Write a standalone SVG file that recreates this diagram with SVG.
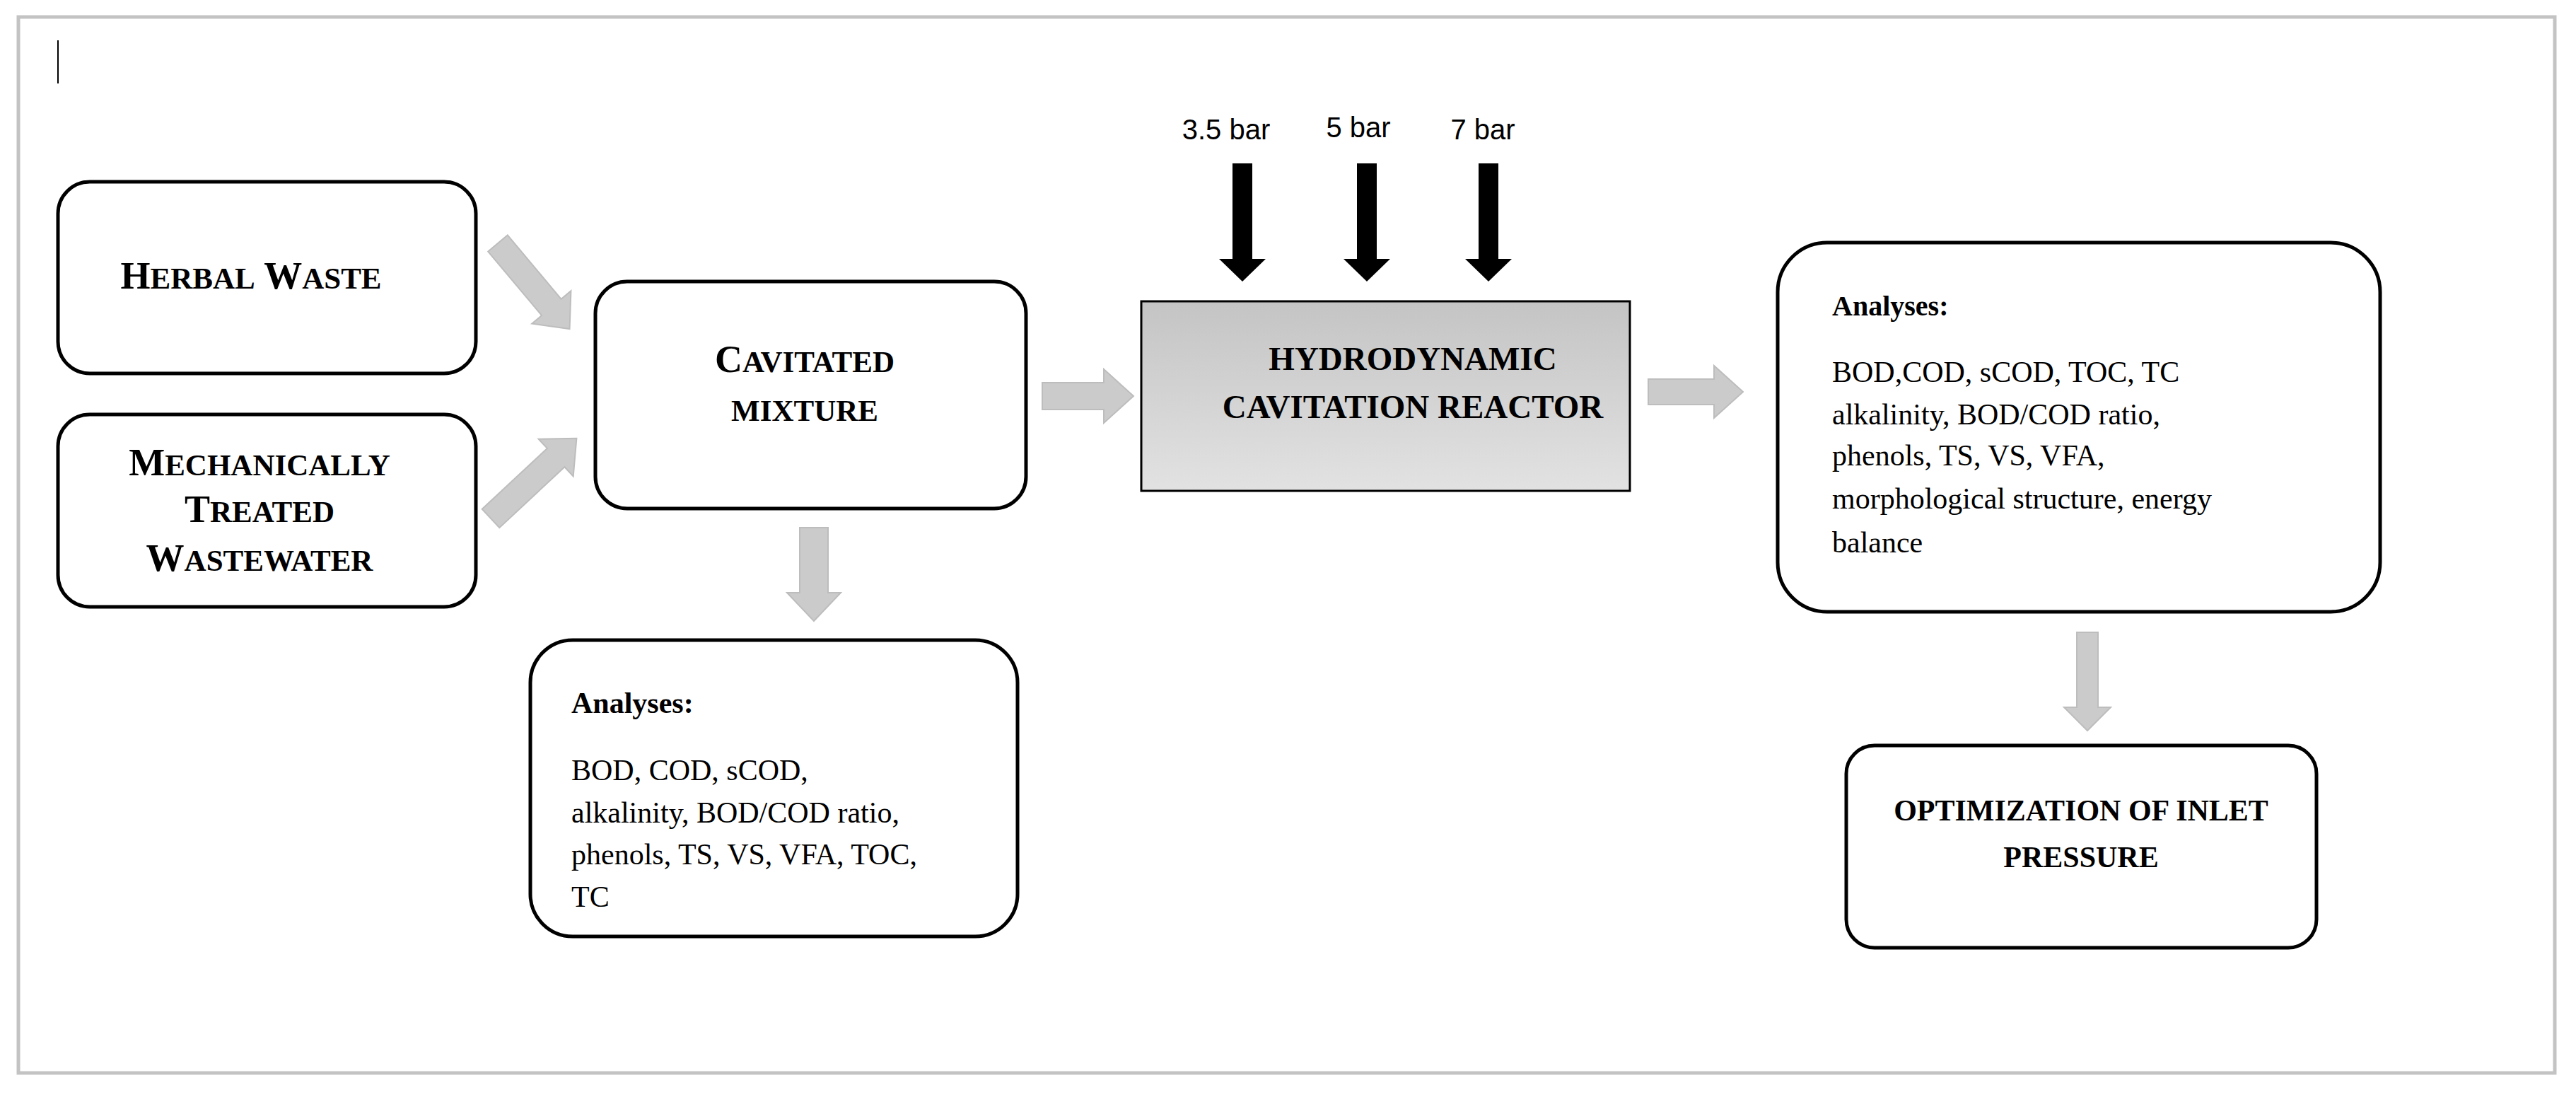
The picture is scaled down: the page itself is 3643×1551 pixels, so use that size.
<svg xmlns="http://www.w3.org/2000/svg" width="3643" height="1551" viewBox="0 0 3643 1551">
<style>
.box{fill:#fff;stroke:#000;stroke-width:5}
.ga{fill:#cbcbcb;stroke:#bdbdbd;stroke-width:2}
.ba{fill:#000}
.t{font-family:"Liberation Serif",serif;fill:#000}
.b{font-weight:bold}
.sc{font-family:"Liberation Serif",serif;font-weight:bold;font-size:54px;text-anchor:middle}
.s{font-size:43px}
.bar{font-family:"Liberation Sans",sans-serif;font-size:40px;text-anchor:middle}
</style>
<defs>
<linearGradient id="rg" x1="0" y1="0" x2="0" y2="1">
<stop offset="0" stop-color="#c4c4c4"/><stop offset="1" stop-color="#e2e2e2"/>
</linearGradient>
</defs>
<rect x="0" y="0" width="3643" height="1551" fill="#fff"/>
<rect x="26" y="24" width="3587" height="1493" fill="none" stroke="#c3c3c3" stroke-width="5"/>
<line x1="82" y1="57" x2="82" y2="118" stroke="#000" stroke-width="2"/>
<g id="connectors">
<path class="ga" transform="translate(704,344) rotate(50)" d="M0,-18 L118,-18 L118,-36 L158,0 L118,36 L118,18 L0,18 Z"/>
<path class="ga" transform="translate(694,733) rotate(-43)" d="M0,-18 L126,-18 L126,-36 L166,0 L126,36 L126,18 L0,18 Z"/>
<path class="ga" transform="translate(1474,560)" d="M0,-19 L87,-19 L87,-38 L129,0 L87,38 L87,19 L0,19 Z"/>
<path class="ga" transform="translate(1151,746) rotate(90)" d="M0,-20 L92,-20 L92,-38 L132,0 L92,38 L92,20 L0,20 Z"/>
<path class="ga" transform="translate(2331,554)" d="M0,-18 L93,-18 L93,-37 L134,0 L93,37 L93,18 L0,18 Z"/>
<path class="ga" transform="translate(2952,894) rotate(90)" d="M0,-15 L106,-15 L106,-33 L139,0 L106,33 L106,15 L0,15 Z"/>
<path class="ba" transform="translate(1757,231) rotate(90)" d="M0,-14 L135,-14 L135,-33 L167,0 L135,33 L135,14 L0,14 Z"/>
<path class="ba" transform="translate(1933,231) rotate(90)" d="M0,-14 L135,-14 L135,-33 L167,0 L135,33 L135,14 L0,14 Z"/>
<path class="ba" transform="translate(2105,231) rotate(90)" d="M0,-14 L135,-14 L135,-33 L167,0 L135,33 L135,14 L0,14 Z"/>
</g>
<g id="pressures">
<text class="bar" x="1734" y="197">3.5 bar</text>
<text class="bar" x="1921" y="194">5 bar</text>
<text class="bar" x="2097" y="197">7 bar</text>
</g>
<g id="herbal">
<rect class="box" x="82" y="257" width="591" height="271" rx="45"/>
<text class="sc" x="355" y="408">H<tspan class="s">ERBAL</tspan> W<tspan class="s">ASTE</tspan></text>
</g>
<g id="mech">
<rect class="box" x="82" y="586" width="591" height="272" rx="45"/>
<text class="sc" x="367" y="672">M<tspan class="s">ECHANICALLY</tspan></text>
<text class="sc" x="367" y="738">T<tspan class="s">REATED</tspan></text>
<text class="sc" x="367" y="807">W<tspan class="s">ASTEWATER</tspan></text>
</g>
<g id="cavitated">
<rect class="box" x="842" y="398" width="609" height="321" rx="45"/>
<text class="sc" x="1138" y="526">C<tspan class="s">AVITATED</tspan></text>
<text class="sc" x="1138" y="595"><tspan class="s">MIXTURE</tspan></text>
</g>
<g id="analyses1">
<rect class="box" x="750" y="905" width="689" height="419" rx="60"/>
<text class="t b" x="808" y="1008" font-size="42">Analyses:</text>
<text class="t" font-size="42"><tspan x="808" y="1103">BOD, COD, sCOD,</tspan><tspan x="808" y="1163">alkalinity, BOD/COD ratio,</tspan><tspan x="808" y="1222">phenols, TS, VS, VFA, TOC,</tspan><tspan x="808" y="1282">TC</tspan></text>
</g>
<g id="reactor">
<rect x="1614" y="426" width="691" height="268" fill="url(#rg)" stroke="#000" stroke-width="3"/>
<text class="t b" x="1998" y="523" font-size="47" text-anchor="middle">HYDRODYNAMIC</text>
<text class="t b" x="1998" y="591" font-size="47" text-anchor="middle">CAVITATION REACTOR</text>
</g>
<g id="analyses2">
<rect class="box" x="2514" y="343" width="852" height="522" rx="70"/>
<text class="t b" x="2591" y="446" font-size="40">Analyses:</text>
<text class="t" font-size="42"><tspan x="2591" y="540">BOD,COD, sCOD, TOC, TC</tspan><tspan x="2591" y="600">alkalinity, BOD/COD ratio,</tspan><tspan x="2591" y="658">phenols, TS, VS, VFA,</tspan><tspan x="2591" y="719">morphological structure, energy</tspan><tspan x="2591" y="781">balance</tspan></text>
</g>
<g id="optimization">
<rect class="box" x="2611" y="1054" width="665" height="286" rx="40"/>
<text class="t b" x="2943" y="1160" font-size="42" text-anchor="middle">OPTIMIZATION OF INLET</text>
<text class="t b" x="2943" y="1226" font-size="42" text-anchor="middle">PRESSURE</text>
</g>
</svg>
